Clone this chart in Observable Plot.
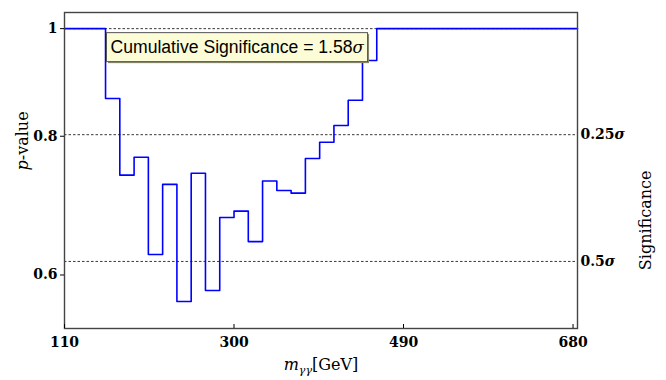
<!DOCTYPE html>
<html><head><meta charset="utf-8">
<script src="https://cdn.jsdelivr.net/npm/d3@7"></script>
<script src="https://cdn.jsdelivr.net/npm/@observablehq/plot@0.6"></script>
<style>
body{margin:0;background:#fff;}
#chart{width:666px;height:380px;}
</style></head><body><div id="chart"></div>
<script>
// bin lower edges (GeV) and p-values (step-after)
const binEdges = [110,156,172,188,204,220,236,252,268,284,300,316,332,348,364,380,396,412,428,444,460,685];
const pValues  = [1,0.865,0.738,0.766,0.626,0.724,0.568,0.741,0.581,0.676,0.685,0.643,0.729,0.715,0.711,0.764,0.790,0.818,0.862,0.936,1,1];
const xTicks = [110,300,490,680];
const yTicks = [0.6,0.8,1];
const gridP = [1,0.8026,0.6171];          // 0σ, 0.25σ, 0.5σ (two-sided p-values)
const sigmaP = [0.8026,0.6171];
const sigmaLabels = ["0.25σ","0.5σ"];
const annotation = "Cumulative Significance = 1.58σ";
const xLabel = "m[GeV]";
const yLabel = "p-value";
const y2Label = "Significance";

const data = binEdges.map((m,i)=>({m, p:pValues[i]}));

const chart = Plot.plot({
  width: 666, height: 380,
  marginLeft: 64, marginRight: 89, marginTop: 12, marginBottom: 52,
  style: {fontFamily: "'DejaVu Serif', serif", fontSize: "14px", background: "#fff", color: "#000"},
  x: {domain: [110, 685]},
  y: {type: "log", domain: [0.537, 1.034]},
  marks: [
    Plot.ruleY(gridP, {stroke: "#222", strokeWidth: 0.9, strokeDasharray: "2.5,2"}),
    Plot.line(data, {x: "m", y: "p", curve: "step-after", stroke: "#0000ff", strokeWidth: 1.6}),
    Plot.frame({stroke: "#444", strokeWidth: 1.4}),
    Plot.axisY(yTicks, {anchor: "left", tickSize: 4, tickPadding: 3, tickFormat: d => String(d), label: null, fontWeight: "bold"}),
    Plot.axisY(sigmaP, {anchor: "right", tickSize: 0, tickPadding: 3, tickFormat: d => sigmaLabels[sigmaP.indexOf(d)], label: null, fontWeight: "bold"}),
    Plot.axisX(xTicks, {anchor: "bottom", tickSize: -4, tickPadding: 13, tickFormat: d => String(d), label: null, fontWeight: "bold"}),
    Plot.text([annotation], {frameAnchor: "top-left", dx: 46, dy: 35, text: d => d, textAnchor: "start", lineAnchor: "middle", fontSize: 17.6, fontFamily: "'Liberation Sans', Arial, sans-serif"}),
    Plot.text([yLabel], {frameAnchor: "left", dx: -42, text: d => d, rotate: -90, fontSize: 16}),
    Plot.text([y2Label], {frameAnchor: "right", dx: 68, text: d => d, rotate: -90, fontSize: 16}),
    Plot.text([xLabel], {frameAnchor: "bottom", dy: 41, text: d => d, fontSize: 16})
  ]
});
document.getElementById("chart").appendChild(chart);

const svg = d3.select(chart);
const NS = "http://www.w3.org/2000/svg";
svg.selectAll("text").each(function(){
  const t = this.textContent;
  const sel = d3.select(this);
  if (t === annotation) {
    sel.text(null);
    sel.append("tspan").text("Cumulative Significance = 1.58");
    sel.append("tspan").attr("font-style","italic").attr("font-family","'DejaVu Serif', serif").attr("font-size",16.5).text("σ");
    const bb = this.getBBox();
    const tr = this.getAttribute("transform");
    const parent = this.parentNode;
    const rectShadow = document.createElementNS(NS, "rect");
    const rect = document.createElementNS(NS, "rect");
    const x0 = bb.x - 4, y0 = bb.y - 4.5, w = bb.width + 7, h = bb.height + 9;
    d3.select(rectShadow).attr("transform", tr).attr("x", x0+1.5).attr("y", y0+1.5).attr("width", w).attr("height", h).attr("fill", "#8a8a70");
    d3.select(rect).attr("transform", tr).attr("x", x0).attr("y", y0).attr("width", w).attr("height", h).attr("fill", "#fcfcd6").attr("stroke", "#555").attr("stroke-width", 1);
    parent.insertBefore(rectShadow, this);
    parent.insertBefore(rect, this);
  } else if (t === yLabel) {
    sel.text(null);
    sel.append("tspan").attr("font-style","italic").text("p");
    sel.append("tspan").text("-value");
  } else if (t === xLabel) {
    sel.text(null);
    sel.append("tspan").attr("font-style","italic").text("m");
    sel.append("tspan").attr("font-style","italic").attr("font-size",11).attr("dy",4).text("γγ");
    sel.append("tspan").attr("dy",-4).text("[GeV]");
  } else if (sigmaLabels.includes(t)) {
    sel.text(null);
    sel.append("tspan").text(t.replace("σ",""));
    sel.append("tspan").attr("font-style","italic").text("σ");
  }
});
</script>
</body></html>
